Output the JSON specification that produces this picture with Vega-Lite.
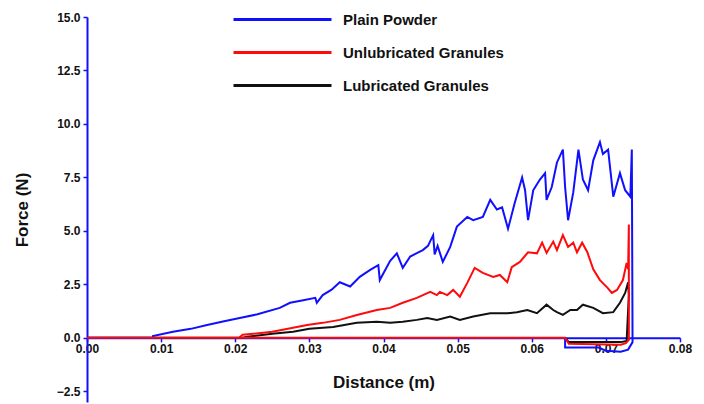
{
  "$schema": "https://vega.github.io/schema/vega-lite/v6.json",
  "width": 593,
  "height": 385,
  "autosize": {"type": "none"},
  "padding": {"left": 87, "top": 17, "right": 24, "bottom": 2},
  "background": "white",
  "config": {
    "view": {"stroke": null},
    "font": "Liberation Sans",
    "axis": {"grid": false, "domainColor": "#1010ff", "domainWidth": 2, "tickColor": "#1010ff", "tickWidth": 1.5, "tickSize": 4, "labelFont": "Liberation Sans", "labelFontWeight": "bold", "labelFontSize": 12, "labelColor": "#111", "titleFont": "Liberation Sans", "titleFontWeight": "bold", "titleFontSize": 17, "titleColor": "#111"}
  },
  "data": {
    "values": [
      {"s": "Lubricated Granules", "i": 0, "x": 0, "y": 0},
      {"s": "Lubricated Granules", "i": 1, "x": 0.021, "y": 0},
      {"s": "Lubricated Granules", "i": 2, "x": 0.0216, "y": 0.05},
      {"s": "Lubricated Granules", "i": 3, "x": 0.025, "y": 0.19},
      {"s": "Lubricated Granules", "i": 4, "x": 0.0278, "y": 0.28},
      {"s": "Lubricated Granules", "i": 5, "x": 0.03, "y": 0.42},
      {"s": "Lubricated Granules", "i": 6, "x": 0.0332, "y": 0.51},
      {"s": "Lubricated Granules", "i": 7, "x": 0.0364, "y": 0.7},
      {"s": "Lubricated Granules", "i": 8, "x": 0.0391, "y": 0.75},
      {"s": "Lubricated Granules", "i": 9, "x": 0.0409, "y": 0.7},
      {"s": "Lubricated Granules", "i": 10, "x": 0.0426, "y": 0.75},
      {"s": "Lubricated Granules", "i": 11, "x": 0.0445, "y": 0.84},
      {"s": "Lubricated Granules", "i": 12, "x": 0.0459, "y": 0.93},
      {"s": "Lubricated Granules", "i": 13, "x": 0.0472, "y": 0.84},
      {"s": "Lubricated Granules", "i": 14, "x": 0.049, "y": 1.0},
      {"s": "Lubricated Granules", "i": 15, "x": 0.0503, "y": 0.84},
      {"s": "Lubricated Granules", "i": 16, "x": 0.0521, "y": 1.0},
      {"s": "Lubricated Granules", "i": 17, "x": 0.0544, "y": 1.15},
      {"s": "Lubricated Granules", "i": 18, "x": 0.0567, "y": 1.15},
      {"s": "Lubricated Granules", "i": 19, "x": 0.058, "y": 1.2},
      {"s": "Lubricated Granules", "i": 20, "x": 0.0594, "y": 1.3},
      {"s": "Lubricated Granules", "i": 21, "x": 0.0607, "y": 1.15},
      {"s": "Lubricated Granules", "i": 22, "x": 0.062, "y": 1.55},
      {"s": "Lubricated Granules", "i": 23, "x": 0.0629, "y": 1.3},
      {"s": "Lubricated Granules", "i": 24, "x": 0.0634, "y": 1.2},
      {"s": "Lubricated Granules", "i": 25, "x": 0.0642, "y": 1.07},
      {"s": "Lubricated Granules", "i": 26, "x": 0.0652, "y": 1.3},
      {"s": "Lubricated Granules", "i": 27, "x": 0.0661, "y": 1.3},
      {"s": "Lubricated Granules", "i": 28, "x": 0.0669, "y": 1.55},
      {"s": "Lubricated Granules", "i": 29, "x": 0.0683, "y": 1.4},
      {"s": "Lubricated Granules", "i": 30, "x": 0.0696, "y": 1.15},
      {"s": "Lubricated Granules", "i": 31, "x": 0.071, "y": 1.2},
      {"s": "Lubricated Granules", "i": 32, "x": 0.0719, "y": 1.64},
      {"s": "Lubricated Granules", "i": 33, "x": 0.0726, "y": 2.1},
      {"s": "Lubricated Granules", "i": 34, "x": 0.073, "y": 2.6},
      {"s": "Lubricated Granules", "i": 35, "x": 0.0731, "y": 2.0},
      {"s": "Lubricated Granules", "i": 36, "x": 0.0728, "y": -0.15},
      {"s": "Lubricated Granules", "i": 37, "x": 0.072, "y": -0.2},
      {"s": "Lubricated Granules", "i": 38, "x": 0.065, "y": -0.2},
      {"s": "Lubricated Granules", "i": 39, "x": 0.0645, "y": 0},
      {"s": "Plain Powder", "i": 0, "x": 0, "y": 0},
      {"s": "Plain Powder", "i": 1, "x": 0.0089, "y": 0},
      {"s": "Plain Powder", "i": 2, "x": 0.0089, "y": 0.08},
      {"s": "Plain Powder", "i": 3, "x": 0.0116, "y": 0.28},
      {"s": "Plain Powder", "i": 4, "x": 0.014, "y": 0.42},
      {"s": "Plain Powder", "i": 5, "x": 0.0162, "y": 0.6},
      {"s": "Plain Powder", "i": 6, "x": 0.0185, "y": 0.78},
      {"s": "Plain Powder", "i": 7, "x": 0.0206, "y": 0.93},
      {"s": "Plain Powder", "i": 8, "x": 0.023, "y": 1.1},
      {"s": "Plain Powder", "i": 9, "x": 0.026, "y": 1.4},
      {"s": "Plain Powder", "i": 10, "x": 0.0274, "y": 1.64},
      {"s": "Plain Powder", "i": 11, "x": 0.029, "y": 1.75},
      {"s": "Plain Powder", "i": 12, "x": 0.0308, "y": 1.87},
      {"s": "Plain Powder", "i": 13, "x": 0.031, "y": 1.64},
      {"s": "Plain Powder", "i": 14, "x": 0.0318, "y": 2.0},
      {"s": "Plain Powder", "i": 15, "x": 0.033, "y": 2.25},
      {"s": "Plain Powder", "i": 16, "x": 0.0341, "y": 2.6},
      {"s": "Plain Powder", "i": 17, "x": 0.0355, "y": 2.4},
      {"s": "Plain Powder", "i": 18, "x": 0.0368, "y": 2.85},
      {"s": "Plain Powder", "i": 19, "x": 0.0382, "y": 3.18},
      {"s": "Plain Powder", "i": 20, "x": 0.0393, "y": 3.4},
      {"s": "Plain Powder", "i": 21, "x": 0.0395, "y": 2.7},
      {"s": "Plain Powder", "i": 22, "x": 0.0409, "y": 3.6},
      {"s": "Plain Powder", "i": 23, "x": 0.0418, "y": 3.95},
      {"s": "Plain Powder", "i": 24, "x": 0.0426, "y": 3.27},
      {"s": "Plain Powder", "i": 25, "x": 0.0436, "y": 3.8},
      {"s": "Plain Powder", "i": 26, "x": 0.0447, "y": 4.0},
      {"s": "Plain Powder", "i": 27, "x": 0.0453, "y": 4.1},
      {"s": "Plain Powder", "i": 28, "x": 0.046, "y": 4.3},
      {"s": "Plain Powder", "i": 29, "x": 0.0467, "y": 4.8},
      {"s": "Plain Powder", "i": 30, "x": 0.0469, "y": 3.9},
      {"s": "Plain Powder", "i": 31, "x": 0.0473, "y": 4.3},
      {"s": "Plain Powder", "i": 32, "x": 0.048, "y": 3.55},
      {"s": "Plain Powder", "i": 33, "x": 0.049, "y": 4.25},
      {"s": "Plain Powder", "i": 34, "x": 0.0499, "y": 5.2},
      {"s": "Plain Powder", "i": 35, "x": 0.0513, "y": 5.65},
      {"s": "Plain Powder", "i": 36, "x": 0.0521, "y": 5.5},
      {"s": "Plain Powder", "i": 37, "x": 0.0534, "y": 5.65},
      {"s": "Plain Powder", "i": 38, "x": 0.0544, "y": 6.45},
      {"s": "Plain Powder", "i": 39, "x": 0.0553, "y": 6.0},
      {"s": "Plain Powder", "i": 40, "x": 0.056, "y": 6.1},
      {"s": "Plain Powder", "i": 41, "x": 0.0568, "y": 5.1},
      {"s": "Plain Powder", "i": 42, "x": 0.0577, "y": 6.3},
      {"s": "Plain Powder", "i": 43, "x": 0.0587, "y": 7.5},
      {"s": "Plain Powder", "i": 44, "x": 0.0591, "y": 6.9},
      {"s": "Plain Powder", "i": 45, "x": 0.0595, "y": 5.5},
      {"s": "Plain Powder", "i": 46, "x": 0.0602, "y": 6.9},
      {"s": "Plain Powder", "i": 47, "x": 0.0611, "y": 7.4},
      {"s": "Plain Powder", "i": 48, "x": 0.0618, "y": 7.7},
      {"s": "Plain Powder", "i": 49, "x": 0.062, "y": 6.45},
      {"s": "Plain Powder", "i": 50, "x": 0.0627, "y": 7.05},
      {"s": "Plain Powder", "i": 51, "x": 0.0634, "y": 8.2},
      {"s": "Plain Powder", "i": 52, "x": 0.0642, "y": 8.8},
      {"s": "Plain Powder", "i": 53, "x": 0.0645, "y": 7.05},
      {"s": "Plain Powder", "i": 54, "x": 0.0649, "y": 5.5},
      {"s": "Plain Powder", "i": 55, "x": 0.0656, "y": 6.8},
      {"s": "Plain Powder", "i": 56, "x": 0.0663, "y": 8.8},
      {"s": "Plain Powder", "i": 57, "x": 0.0669, "y": 7.4},
      {"s": "Plain Powder", "i": 58, "x": 0.0676, "y": 6.9},
      {"s": "Plain Powder", "i": 59, "x": 0.0683, "y": 8.3},
      {"s": "Plain Powder", "i": 60, "x": 0.0692, "y": 9.15},
      {"s": "Plain Powder", "i": 61, "x": 0.0696, "y": 8.6},
      {"s": "Plain Powder", "i": 62, "x": 0.0703, "y": 8.8},
      {"s": "Plain Powder", "i": 63, "x": 0.071, "y": 6.6},
      {"s": "Plain Powder", "i": 64, "x": 0.0719, "y": 7.7},
      {"s": "Plain Powder", "i": 65, "x": 0.0726, "y": 6.9},
      {"s": "Plain Powder", "i": 66, "x": 0.0733, "y": 6.6},
      {"s": "Plain Powder", "i": 67, "x": 0.0735, "y": 8.8},
      {"s": "Plain Powder", "i": 68, "x": 0.0736, "y": -0.2},
      {"s": "Plain Powder", "i": 69, "x": 0.073, "y": -0.55},
      {"s": "Plain Powder", "i": 70, "x": 0.072, "y": -0.65},
      {"s": "Plain Powder", "i": 71, "x": 0.07, "y": -0.6},
      {"s": "Plain Powder", "i": 72, "x": 0.069, "y": -0.45},
      {"s": "Plain Powder", "i": 73, "x": 0.0645, "y": -0.45},
      {"s": "Plain Powder", "i": 74, "x": 0.0645, "y": 0},
      {"s": "Unlubricated Granules", "i": 0, "x": 0, "y": 0},
      {"s": "Unlubricated Granules", "i": 1, "x": 0.0205, "y": 0},
      {"s": "Unlubricated Granules", "i": 2, "x": 0.021, "y": 0.14},
      {"s": "Unlubricated Granules", "i": 3, "x": 0.025, "y": 0.28},
      {"s": "Unlubricated Granules", "i": 4, "x": 0.0278, "y": 0.47},
      {"s": "Unlubricated Granules", "i": 5, "x": 0.0297, "y": 0.6},
      {"s": "Unlubricated Granules", "i": 6, "x": 0.0318, "y": 0.7},
      {"s": "Unlubricated Granules", "i": 7, "x": 0.0341, "y": 0.84},
      {"s": "Unlubricated Granules", "i": 8, "x": 0.0364, "y": 1.07},
      {"s": "Unlubricated Granules", "i": 9, "x": 0.0391, "y": 1.3},
      {"s": "Unlubricated Granules", "i": 10, "x": 0.0409, "y": 1.4},
      {"s": "Unlubricated Granules", "i": 11, "x": 0.0426, "y": 1.64},
      {"s": "Unlubricated Granules", "i": 12, "x": 0.0445, "y": 1.87},
      {"s": "Unlubricated Granules", "i": 13, "x": 0.0463, "y": 2.15},
      {"s": "Unlubricated Granules", "i": 14, "x": 0.0472, "y": 2.0},
      {"s": "Unlubricated Granules", "i": 15, "x": 0.0476, "y": 2.15},
      {"s": "Unlubricated Granules", "i": 16, "x": 0.0486, "y": 2.0},
      {"s": "Unlubricated Granules", "i": 17, "x": 0.0494, "y": 2.24},
      {"s": "Unlubricated Granules", "i": 18, "x": 0.0503, "y": 1.92},
      {"s": "Unlubricated Granules", "i": 19, "x": 0.0513, "y": 2.57},
      {"s": "Unlubricated Granules", "i": 20, "x": 0.0523, "y": 3.27},
      {"s": "Unlubricated Granules", "i": 21, "x": 0.0534, "y": 3.04},
      {"s": "Unlubricated Granules", "i": 22, "x": 0.0548, "y": 2.85},
      {"s": "Unlubricated Granules", "i": 23, "x": 0.0557, "y": 2.94},
      {"s": "Unlubricated Granules", "i": 24, "x": 0.0567, "y": 2.6},
      {"s": "Unlubricated Granules", "i": 25, "x": 0.0573, "y": 3.3},
      {"s": "Unlubricated Granules", "i": 26, "x": 0.0584, "y": 3.55},
      {"s": "Unlubricated Granules", "i": 27, "x": 0.0595, "y": 4.0},
      {"s": "Unlubricated Granules", "i": 28, "x": 0.0607, "y": 3.95},
      {"s": "Unlubricated Granules", "i": 29, "x": 0.0614, "y": 4.45},
      {"s": "Unlubricated Granules", "i": 30, "x": 0.062, "y": 3.97},
      {"s": "Unlubricated Granules", "i": 31, "x": 0.0629, "y": 4.5},
      {"s": "Unlubricated Granules", "i": 32, "x": 0.0634, "y": 4.1},
      {"s": "Unlubricated Granules", "i": 33, "x": 0.0642, "y": 4.8},
      {"s": "Unlubricated Granules", "i": 34, "x": 0.0649, "y": 4.25},
      {"s": "Unlubricated Granules", "i": 35, "x": 0.0656, "y": 4.45},
      {"s": "Unlubricated Granules", "i": 36, "x": 0.0661, "y": 4.0},
      {"s": "Unlubricated Granules", "i": 37, "x": 0.0668, "y": 4.45},
      {"s": "Unlubricated Granules", "i": 38, "x": 0.0675, "y": 4.0},
      {"s": "Unlubricated Granules", "i": 39, "x": 0.0683, "y": 3.2},
      {"s": "Unlubricated Granules", "i": 40, "x": 0.0692, "y": 2.7},
      {"s": "Unlubricated Granules", "i": 41, "x": 0.0702, "y": 2.35},
      {"s": "Unlubricated Granules", "i": 42, "x": 0.0708, "y": 2.1},
      {"s": "Unlubricated Granules", "i": 43, "x": 0.0715, "y": 2.24},
      {"s": "Unlubricated Granules", "i": 44, "x": 0.0723, "y": 2.7},
      {"s": "Unlubricated Granules", "i": 45, "x": 0.0728, "y": 3.5},
      {"s": "Unlubricated Granules", "i": 46, "x": 0.073, "y": 3.2},
      {"s": "Unlubricated Granules", "i": 47, "x": 0.0731, "y": 5.3},
      {"s": "Unlubricated Granules", "i": 48, "x": 0.0731, "y": -0.1},
      {"s": "Unlubricated Granules", "i": 49, "x": 0.0727, "y": -0.25},
      {"s": "Unlubricated Granules", "i": 50, "x": 0.072, "y": -0.32},
      {"s": "Unlubricated Granules", "i": 51, "x": 0.065, "y": -0.28},
      {"s": "Unlubricated Granules", "i": 52, "x": 0.0645, "y": 0},
      {"s": "Unlubricated Granules", "i": 53, "x": 0, "y": 0}
    ]
  },
  "mark": {"type": "line", "strokeWidth": 2, "clip": true},
  "encoding": {
    "x": {
      "field": "x", "type": "quantitative",
      "scale": {"domain": [0, 0.08], "nice": false, "zero": false},
      "axis": {"title": "Distance (m)", "values": [0, 0.01, 0.02, 0.03, 0.04, 0.05, 0.06, 0.07, 0.08], "format": ".2f", "offset": {"expr": "scale('y', 0) - height"}, "labelPadding": 2, "titlePadding": 20, "labelFlush": false}
    },
    "y": {
      "field": "y", "type": "quantitative",
      "scale": {"domain": [-3, 15], "nice": false, "zero": false},
      "axis": {"title": "Force (N)", "values": [-2.5, 0, 2.5, 5, 7.5, 10, 12.5, 15], "format": ".1f", "labelPadding": 3, "titlePadding": 25}
    },
    "color": {
      "field": "s", "type": "nominal",
      "scale": {"domain": ["Plain Powder", "Unlubricated Granules", "Lubricated Granules"], "range": ["#1010ff", "#ff0a0a", "#111111"]},
      "legend": {"title": null, "orient": "none", "legendX": 184, "legendY": -9, "padding": 0, "symbolType": "M-5,0H5", "symbolSize": 384, "symbolStrokeWidth": 3, "symbolFillColor": "transparent", "labelFontSize": 15, "labelFontWeight": "bold", "labelColor": "#111", "labelFont": "Liberation Sans", "labelOffset": 49, "labelLimit": 400, "rowPadding": 13}
    },
    "order": {"field": "i", "type": "quantitative"}
  }
}
